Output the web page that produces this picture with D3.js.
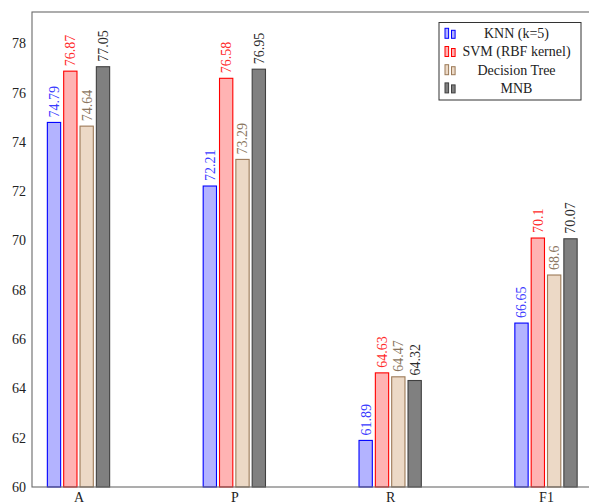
<!DOCTYPE html>
<html>
<head>
<meta charset="utf-8">
<script src="https://cdn.jsdelivr.net/npm/d3@7"></script>
<style>
  html, body { margin: 0; padding: 0; background: #fff; }
  svg { display: block; }
</style>
</head>
<body>
<svg id="chart" width="589" height="504"></svg>
<script>
// Metrics on the x axis
const categories = ["A", "P", "R", "F1"];
// Classifiers, one bar per metric each
const seriesNames = ["KNN (k=5)", "SVM (RBF kernel)", "Decision Tree", "MNB"];
const knnValues = [74.79, 72.21, 61.89, 66.65];
const svmValues = [76.87, 76.58, 64.63, 70.1];
const treeValues = [74.64, 73.29, 64.47, 68.6];
const mnbValues = [77.05, 76.95, 64.32, 70.07];
const yTicks = [60, 62, 64, 66, 68, 70, 72, 74, 76, 78];

const series = [knnValues, svmValues, treeValues, mnbValues];
const fills = ["#b3b3ff", "#ffb3b3", "#ecd9c6", "#808080"];
const strokes = ["#0000ff", "#ff0000", "#9c7a58", "#404040"];
const labelColors = ["#3a3aff", "#ff2a2a", "#8a7560", "#2a2a2a"];
const FONT = "'Liberation Serif', 'Times New Roman', serif";

const svg = d3.select("#chart");
const plotLeft = 32, plotRight = 592.5, plotTop = 12, plotBottom = 487;

const y = d3.scaleLinear().domain([60, 79.27]).range([plotBottom, plotTop]);
const x = d3.scalePoint().domain(categories).range([78.5, 546]);
const offsets = d3.scalePoint().domain(d3.range(series.length)).range([-24.5, 24.5]);
const barW = 13.3;

// Bars with rotated value labels
series.forEach((vals, si) => {
  const g = svg.append("g");
  g.selectAll("rect").data(vals).join("rect")
    .attr("x", (d, i) => x(categories[i]) + offsets(si) - barW / 2)
    .attr("y", d => y(d))
    .attr("width", barW)
    .attr("height", d => y(60) - y(d))
    .attr("fill", fills[si])
    .attr("stroke", strokes[si])
    .attr("stroke-width", 1.1);
  g.selectAll("text").data(vals).join("text")
    .attr("transform", (d, i) => `translate(${x(categories[i]) + offsets(si)},${y(d) - 5}) rotate(-90)`)
    .attr("dy", "0.35em")
    .style("font-family", FONT)
    .style("font-size", "14px")
    .attr("fill", labelColors[si])
    .text(d => String(d));
});

// Frame
svg.append("rect")
  .attr("x", plotLeft).attr("y", plotTop)
  .attr("width", plotRight - plotLeft).attr("height", plotBottom - plotTop)
  .attr("fill", "none").attr("stroke", "#6a6a6a").attr("stroke-width", 1.1);

// Y axis labels
const yAxis = d3.axisLeft(y).tickValues(yTicks).tickSize(0).tickPadding(6);
const ya = svg.append("g").attr("transform", `translate(${plotLeft},0)`).call(yAxis);
ya.select(".domain").remove();
ya.selectAll("text").style("font-family", FONT).style("font-size", "14px").attr("fill", "#222");

// X axis labels
const xAxis = d3.axisBottom(x).tickSize(0).tickPadding(5);
const xa = svg.append("g").attr("transform", `translate(0,${plotBottom})`).call(xAxis);
xa.select(".domain").remove();
xa.selectAll("text").style("font-family", FONT).style("font-size", "14px").attr("fill", "#222");

// Legend
const lg = svg.append("g");
lg.append("rect").attr("x", 439).attr("y", 22.5).attr("width", 142).attr("height", 77.5)
  .attr("fill", "#fff").attr("stroke", "#333").attr("stroke-width", 1);
seriesNames.forEach((name, si) => {
  const cy = 33.3 + si * 18.2;
  [[445, 10], [451.5, 8]].forEach(([bx, h]) => {
    lg.append("rect").attr("x", bx).attr("y", cy + 5 - h).attr("width", 3.6).attr("height", h)
      .attr("fill", fills[si]).attr("stroke", strokes[si]).attr("stroke-width", 1);
  });
  lg.append("text").attr("x", 516.5).attr("y", cy).attr("dy", "0.35em")
    .attr("text-anchor", "middle")
    .style("font-family", FONT).style("font-size", "14px")
    .attr("fill", "#222").text(name);
});
</script>
</body>
</html>
